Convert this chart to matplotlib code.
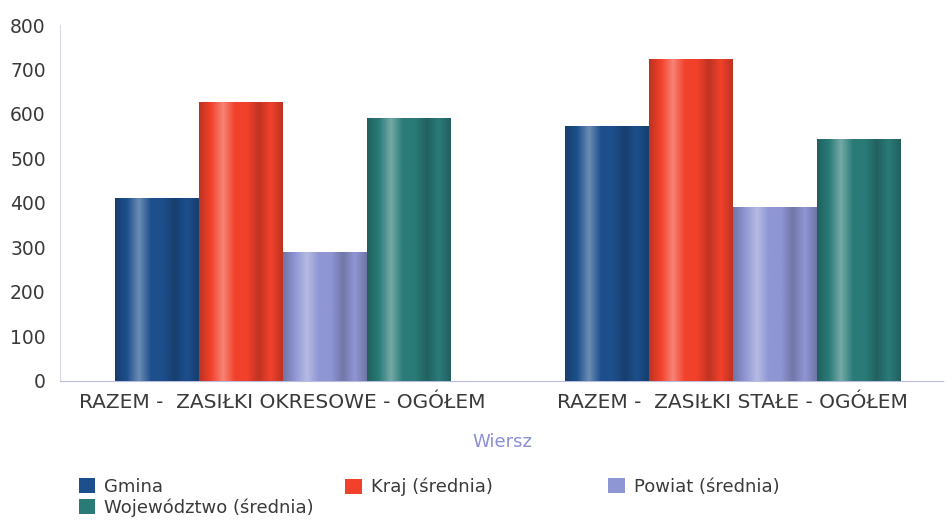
import matplotlib
matplotlib.use("Agg")
import matplotlib.pyplot as plt
import numpy as np
from matplotlib.colors import LinearSegmentedColormap, to_rgb

categories = ["RAZEM -  ZASIŁKI OKRESOWE - OGÓŁEM", "RAZEM -  ZASIŁKI STAŁE - OGÓŁEM"]
series_names = ["Gmina", "Kraj (średnia)", "Powiat (średnia)", "Województwo (średnia)"]
gmina = [411, 573]
kraj = [627, 723]
powiat = [290, 391]
wojewodztwo = [591, 544]
yticks = [0, 100, 200, 300, 400, 500, 600, 700, 800]

series = [gmina, kraj, powiat, wojewodztwo]
colors = ["#1d4f8c", "#f2412b", "#8f96d4", "#2a7b78"]

plt.rcParams['font.family'] = ['DejaVu Sans']

fig = plt.figure(figsize=(9.46, 5.21), dpi=100)
ax = fig.add_axes([0.063, 0.269, 0.935, 0.683])

def grad_cmap(c):
    r = np.array(to_rgb(c))
    light = r + (1 - r) * 0.35
    dark = r * 0.78
    return LinearSegmentedColormap.from_list("g", [dark, r, light, r, r, dark * 0.95 + r * 0.05, r, dark])

x = np.arange(len(categories))
w = 0.187
offsets = (np.arange(4) - 1.5) * w
grad = np.linspace(0, 1, 256).reshape(1, -1)
for s, vals, c, off in zip(series_names, series, colors, offsets):
    bars = ax.bar(x + off, vals, w * 0.99, color=c, label=s, zorder=2)
    cm = grad_cmap(c)
    for b in bars:
        bx, by = b.get_x(), b.get_y()
        bw, bh = b.get_width(), b.get_height()
        im = ax.imshow(grad, cmap=cm, aspect='auto', extent=[bx, bx + bw, by, by + bh],
                       zorder=3, interpolation='bicubic')
        im.set_clip_path(b)

ax.set_xlim(-0.496, 1.471)
ax.set_ylim(0, 800)
ax.set_yticks(yticks)
ax.set_xticks(x)
ax.set_xticklabels(categories)
ax.tick_params(axis='both', length=0, colors="#3a3a3a")
ax.tick_params(axis='x', pad=9, labelsize=14.5)
ax.tick_params(axis='y', pad=10, labelsize=13.5)
for sp in ['top', 'right']:
    ax.spines[sp].set_visible(False)
ax.spines['left'].set_color("#d8dbe8")
ax.spines['left'].set_linestyle((0, (1, 1)))
ax.spines['bottom'].set_color("#b8bde0")
ax.spines['bottom'].set_linestyle((0, (1, 1)))
ax.set_xlabel("Wiersz", color="#8a8fd6", fontsize=13, labelpad=15)

handles, labels = ax.get_legend_handles_labels()
common = dict(frameon=False, fontsize=13, handlelength=0.9, handleheight=0.9,
              handletextpad=0.5, labelspacing=0.15, borderaxespad=0, borderpad=0)
leg1 = fig.legend([handles[0], handles[3]], [labels[0], labels[3]], loc='upper left',
                  bbox_to_anchor=(0.083, 0.083), **common)
leg2 = fig.legend([handles[1]], [labels[1]], loc='upper left',
                  bbox_to_anchor=(0.365, 0.083), **common)
leg3 = fig.legend([handles[2]], [labels[2]], loc='upper left',
                  bbox_to_anchor=(0.643, 0.083), **common)
for t in list(leg1.get_texts()) + list(leg2.get_texts()) + list(leg3.get_texts()):
    t.set_color("#3a3a3a")

fig.savefig("out.png", dpi=100)
